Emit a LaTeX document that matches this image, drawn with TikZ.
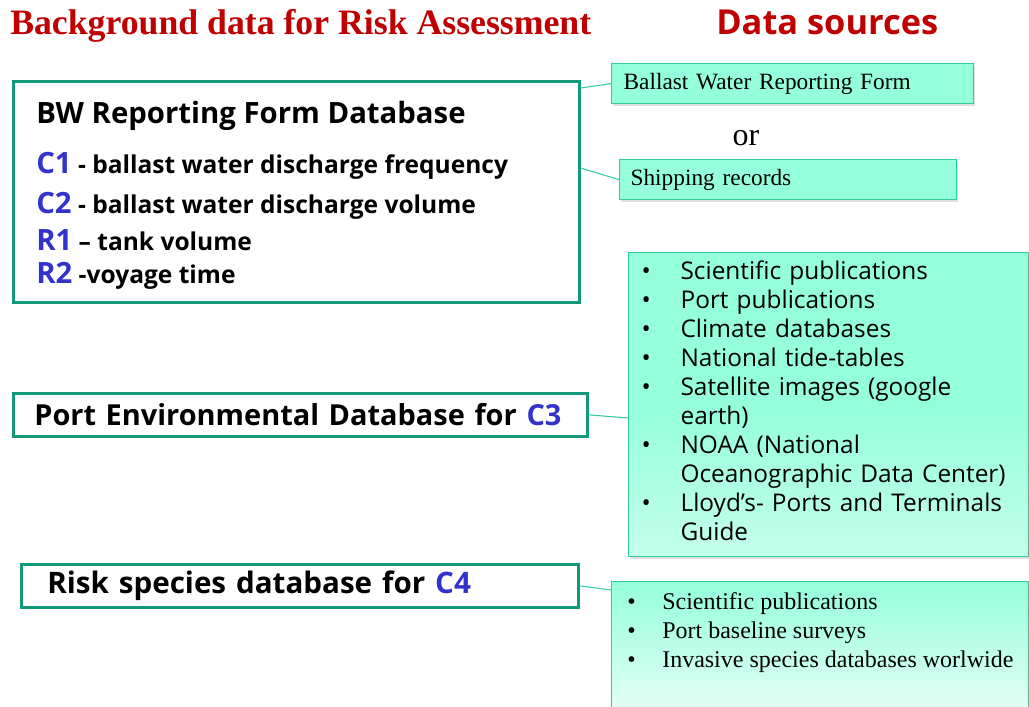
\documentclass[tikz,border=0pt]{standalone}
\usepackage{fontspec}
\setmainfont{Liberation Serif}
\setsansfont{Open Sans}
\usetikzlibrary{calc,shadows}
\definecolor{titlered}{HTML}{C00000}
\definecolor{labelblue}{HTML}{3333CC}
\definecolor{boxgreen}{HTML}{12997A}
\definecolor{sourceaqua}{HTML}{94FFDA}
\definecolor{sourceedge}{HTML}{30CC9A}
\definecolor{linkteal}{HTML}{33CCA0}
\newcommand{\lbl}[1]{\textcolor{labelblue}{#1}}
\tikzset{
  dbbox/.style={
    draw=boxgreen,
    line width=2pt,
    fill=white,
    anchor=north west,
    align=left,
    inner ysep=0pt,
    font=\sffamily\bfseries\fontsize{21.7}{25}\selectfont
  },
  srcbox/.style={
    draw=sourceedge,
    line width=0.9pt,
    fill=sourceaqua,
    anchor=north west,
    align=left,
    inner ysep=0pt,
    drop shadow={shadow xshift=1pt,shadow yshift=-1.5pt,opacity=0.25},
    font=\fontsize{17.5}{21.75}\selectfont
  },
  dbline/.style={
    anchor=base west,
    inner sep=0pt,
    font=\sffamily\bfseries\fontsize{18.4}{22}\selectfont
  },
  link/.style={
    draw=linkteal,
    line width=0.8pt
  }
}

\begin{document}
\begin{tikzpicture}[x=0.75pt,y=-0.75pt]
\useasboundingbox (0,0) rectangle (1029,707);
% titles
\node[anchor=base west, inner sep=0pt, text=titlered, font=\bfseries\fontsize{26.8}{30}\selectfont] (title) at (10,34) {Background data for Risk Assessment};
\node[anchor=base west, inner sep=0pt, text=titlered, font=\sffamily\bfseries\fontsize{25.8}{30}\selectfont] (srctitle) at (716,34) {Data sources};

% left column
\node[dbbox, minimum width=424.5pt, minimum height=165.75pt] (bwdb) at (12,80) {};
\node[dbline, font=\sffamily\bfseries\fontsize{22}{26}\selectfont] (bwhead) at (36,123) {BW Reporting Form Database};
\node[dbline] (c1) at (36,173) {\lbl{\fontsize{22}{26}\selectfont C1} - ballast water discharge frequency};
\node[dbline] (c2) at (36,213) {\lbl{\fontsize{22}{26}\selectfont C2} - ballast water discharge volume};
\node[dbline] (r1) at (36,250) {\lbl{\fontsize{22}{26}\selectfont R1} – tank volume};
\node[dbline] (r2) at (36,283) {\lbl{\fontsize{22}{26}\selectfont R2} -voyage time};

\node[dbbox, inner xsep=15.75pt, text width=399pt, minimum height=32.25pt] (portdb) at (12,392) {Port Environmental Database for \lbl{C3}};
\node[dbbox, inner xsep=19.5pt, text width=378.75pt, minimum height=32.25pt,
  font=\sffamily\bfseries\fontsize{22.2}{25}\selectfont] (riskdb) at (20,563) {Risk species database for \lbl{C4}};

% right column
\node[srcbox, inner xsep=9pt, text width=253.5pt, minimum height=30pt] (bwform) at (611,63) {Ballast Water Reporting Form};
\node[anchor=base, inner sep=0pt, font=\fontsize{24}{28}\selectfont] (or) at (746,145) {or};
\node[srcbox, inner xsep=8.25pt, text width=236.25pt, minimum height=30pt] (ship) at (619,159) {Shipping records};

\node[srcbox, inner xsep=9.75pt, text width=280.5pt, minimum height=228pt,
  top color=sourceaqua, bottom color=sourceaqua!55, middle color=sourceaqua,
  font=\sffamily\fontsize{18.3}{21.75}\selectfont] (portsrc) at (628,252) {%
  \begin{tabular}{@{}p{29.25pt}@{}l@{}}
  \textbullet & Scientific publications\\
  \textbullet & Port publications\\
  \textbullet & Climate databases\\
  \textbullet & National tide-tables\\
  \textbullet & Satellite images (google\\
              & earth)\\
  \textbullet & NOAA (National\\
              & Oceanographic Data Center)\\
  \textbullet & Lloyd’s- Ports and Terminals\\
              & Guide
  \end{tabular}};

\node[srcbox, minimum width=312.75pt, minimum height=120pt,
  top color=sourceaqua, middle color=sourceaqua, bottom color=sourceaqua!8] (risksrc) at (611,581) {};
\node[anchor=north west, inner sep=0pt, font=\fontsize{18}{21.75}\selectfont] (riskitems) at ($(risksrc.north west)+(16,8)$) {%
  \begin{tabular}{@{}p{26.25pt}@{}l@{}}
  \textbullet & Scientific publications\\
  \textbullet & Port baseline surveys\\
  \textbullet & Invasive species databases worlwide
  \end{tabular}};

% links
\draw[link] ($(bwdb.north east)+(0,8)$) -- (bwform.west);
\draw[link] ($(bwdb.north east)+(0,88)$) -- (ship.west);
\draw[link] (portdb.east) -- ($(portsrc.north west)+(0,166)$);
\draw[link] (riskdb.east) -- ($(risksrc.north west)+(0,9)$);
\end{tikzpicture}
\end{document}
